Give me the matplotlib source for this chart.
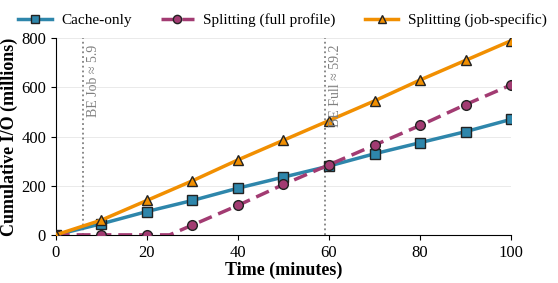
import numpy as np
import matplotlib.pyplot as plt

plt.rcParams['font.family'] = ['Liberation Serif', 'DejaVu Serif']

# sample times (minutes) and cumulative I/O (millions)
t = [0, 10, 20, 30, 40, 50, 60, 70, 80, 90, 100]
cache_only = [0, 45, 95, 140, 190, 235, 280, 330, 375, 420, 470]
split_full = [0, 0, 0, 40, 120, 205, 285, 365, 445, 530, 610]
split_job = [0, 60, 140, 220, 305, 385, 465, 545, 630, 710, 790]

# the full-profile curve stays at zero until about 25 min
full_line_t = [0, 10, 20, 25, 30, 40, 50, 60, 70, 80, 90, 100]
full_line_v = [0, 0, 0, 0, 40, 120, 205, 285, 365, 445, 530, 610]

be_job = 5.9
be_full = 59.2

c_blue = '#2e86ab'
c_pink = '#a23b72'
c_orange = '#f18f01'

fig, ax = plt.subplots(figsize=(5.58, 2.83), dpi=100)

ax.plot(t, cache_only, color=c_blue, lw=2.5, marker='s', ms=7,
        mec='#222222', mew=1, label='Cache-only', zorder=3)
ax.plot(full_line_t, full_line_v, color=c_pink, lw=2.5, ls='--', dashes=(4, 2),
        marker='o', ms=7, markevery=[0, 1, 2, 4, 5, 6, 7, 8, 9, 10, 11],
        mec='#222222', mew=1, label='Splitting (full profile)', zorder=3)
ax.plot(t, split_job, color=c_orange, lw=2.5, marker='^', ms=7,
        mec='#222222', mew=1, label='Splitting (job-specific)', zorder=3)

for x, txt in [(be_job, 'BE Job ≈ 5.9'), (be_full, 'BE Full ≈ 59.2')]:
    ax.axvline(x, color='gray', ls=':', lw=1.3, zorder=1)
    ax.text(x + 0.9, 775, txt, rotation=90, color='gray', fontsize=10,
            va='top', ha='left')

ax.set_xlim(0, 100)
ax.set_ylim(0, 800)
ax.set_xticks([0, 20, 40, 60, 80, 100])
ax.set_yticks([0, 200, 400, 600, 800])
ax.tick_params(labelsize=12)
ax.yaxis.grid(True, color='#e6e6e6', lw=0.6)
ax.set_axisbelow(True)
ax.spines['top'].set_visible(False)
ax.spines['right'].set_visible(False)

ax.set_xlabel('Time (minutes)', fontsize=13, fontweight='bold', labelpad=1)
ax.set_ylabel('Cumulative I/O (millions)', fontsize=13, fontweight='bold', labelpad=2)

fig.legend(*ax.get_legend_handles_labels(), loc='upper center',
           bbox_to_anchor=(0.506, 0.99), ncol=3, frameon=False, fontsize=11,
           handlelength=2.2, handletextpad=0.6, columnspacing=1.9,
           markerscale=0.85, borderaxespad=0.3)

fig.subplots_adjust(left=0.1, right=0.916, top=0.865, bottom=0.17)
fig.savefig('out.png', dpi=100)
